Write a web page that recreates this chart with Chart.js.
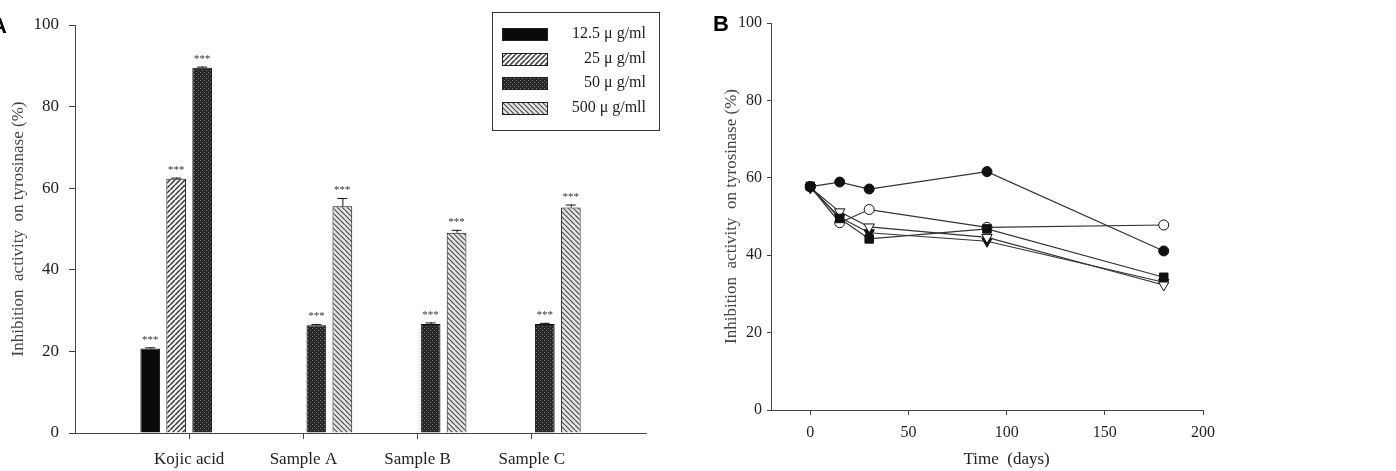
<!DOCTYPE html>
<html>
<head>
<meta charset="utf-8">
<script src="https://cdn.jsdelivr.net/npm/chart.js@4.4.0/dist/chart.umd.min.js"></script>
<style>
  html, body { margin: 0; padding: 0; background: #fff; }
  #wrap { position: relative; width: 1396px; height: 471px; overflow: hidden; }
  #chartA { position: absolute; left: 0; top: 0; }
  #chartB { position: absolute; left: 700px; top: 0; }
</style>
</head>
<body>
<div id="wrap">
  <canvas id="chartA" width="690" height="471"></canvas>
  <canvas id="chartB" width="696" height="471"></canvas>
</div>
<script>
// ---- data, panel A (bars) ----
const categories = ['Kojic acid', 'Sample A', 'Sample B', 'Sample C'];
const concLabels = ['12.5 \u03bc g/ml', '25 \u03bc g/ml', '50 \u03bc g/ml', '500 \u03bc g/mll'];
const inhib125 = [20.7, null, null, null];
const inhib25 = [62.3, null, null, null];
const inhib50 = [89.5, 26.4, 26.7, 26.7];
const inhib500 = [null, 55.6, 49.1, 55.3];
const err125 = [0.3, null, null, null];
const err25 = [0.3, null, null, null];
const err50 = [0.3, 0.3, 0.4, 0.3];
const err500 = [null, 2.0, 0.7, 0.7];

// ---- data, panel B (stability over time) ----
const days = [0, 15, 30, 90, 180];
const actFilledSquare = [57.8, 49.5, 44.2, 46.8, 34.3];
const actFilledCircle = [57.7, 58.9, 57.1, 61.6, 41.1];
const actOpenCircle = [57.7, 48.4, 51.8, 47.2, 47.8];
const actOpenTriangle = [57.5, 51.2, 47.3, 44.6, 32.3];
const actFilledTriangle = [57.4, 49.8, 45.8, 43.6, 33.0];
const xTicksB = [0, 50, 100, 150, 200];

const serif = '"Liberation Serif", "Times New Roman", serif';
const axisColor = '#444';
const textColor = '#1e1e1e';

// patterns for the bars
function makePattern(ctx, size, draw) {
    const c = document.createElement('canvas');
    c.width = size;
    c.height = size;
    draw(c.getContext('2d'), size);
    return ctx.createPattern(c, 'repeat');
}

const ctxA = document.getElementById('chartA').getContext('2d');

const hatchFwd = makePattern(ctxA, 5, (g, s) => {
    g.fillStyle = '#f4f4f4';
    g.fillRect(0, 0, s, s);
    g.strokeStyle = '#383838';
    g.lineWidth = 1.5;
    for (let k = -1; k <= 1; k++) {
        g.beginPath();
        g.moveTo(k * s, s);
        g.lineTo(k * s + s, 0);
        g.stroke();
    }
});
const hatchBack = makePattern(ctxA, 5, (g, s) => {
    g.fillStyle = '#e4e4e4';
    g.fillRect(0, 0, s, s);
    g.strokeStyle = '#4c4c4c';
    g.lineWidth = 1.2;
    for (let k = -1; k <= 1; k++) {
        g.beginPath();
        g.moveTo(k * s, 0);
        g.lineTo(k * s + s, s);
        g.stroke();
    }
});
const dots = makePattern(ctxA, 4, (g, s) => {
    g.fillStyle = '#262626';
    g.fillRect(0, 0, s, s);
    g.fillStyle = '#7a7a7a';
    g.fillRect(0, 0, 1, 1);
    g.fillRect(2, 2, 1, 1);
});

// blank slots at both ends so categories sit one full step in
const padded = arr => [null, ...arr, null];
const labelsA = ['', ...categories, ''];

const barDatasets = [
    { label: concLabels[0], data: padded(inhib125), err: padded(err125), backgroundColor: '#0a0a0a' },
    { label: concLabels[1], data: padded(inhib25), err: padded(err25), backgroundColor: hatchFwd },
    { label: concLabels[2], data: padded(inhib50), err: padded(err50), backgroundColor: dots },
    { label: concLabels[3], data: padded(inhib500), err: padded(err500), backgroundColor: hatchBack }
].map(ds => Object.assign(ds, {
    borderColor: '#111',
    borderWidth: 1,
    barPercentage: 0.76,
    categoryPercentage: 0.91
}));

// error bars + significance stars
const errorBarPlugin = {
    id: 'errorBars',
    afterDatasetsDraw(chart) {
        const ctx = chart.ctx;
        const yScale = chart.scales.y;
        ctx.save();
        chart.data.datasets.forEach((ds, i) => {
            const meta = chart.getDatasetMeta(i);
            meta.data.forEach((bar, j) => {
                const v = ds.data[j];
                if (v === null || v === undefined) return;
                const e = ds.err[j] || 0;
                const top = yScale.getPixelForValue(v + e);
                ctx.strokeStyle = '#111';
                ctx.lineWidth = 1;
                ctx.beginPath();
                ctx.moveTo(bar.x + 0.5, bar.y);
                ctx.lineTo(bar.x + 0.5, top);
                ctx.moveTo(bar.x - 5, top + 0.5);
                ctx.lineTo(bar.x + 5, top + 0.5);
                ctx.stroke();
                ctx.fillStyle = '#333';
                ctx.font = '11px ' + serif;
                ctx.textAlign = 'center';
                ctx.textBaseline = 'bottom';
                ctx.fillText('***', bar.x, top - 2);
            });
        });
        ctx.restore();
    }
};

const legendBoxPlugin = {
    id: 'legendBox',
    afterDraw(chart) {
        const ctx = chart.ctx;
        const left = chart.chartArea.right - 154;
        const top = 12, w = 167, h = 118;
        ctx.save();
        ctx.fillStyle = '#fff';
        ctx.fillRect(left, top, w, h);
        ctx.strokeStyle = '#333';
        ctx.lineWidth = 1;
        ctx.strokeRect(left + 0.5, top + 0.5, w, h);
        chart.data.datasets.forEach((ds, i) => {
            const cy = Math.round(top + 22 + i * 24.7);
            ctx.fillStyle = ds.backgroundColor;
            ctx.fillRect(left + 10, cy - 6, 45, 12);
            ctx.strokeStyle = '#222';
            ctx.strokeRect(left + 10.5, cy - 5.5, 45, 12);
            ctx.fillStyle = textColor;
            ctx.font = '16px ' + serif;
            ctx.textAlign = 'right';
            ctx.textBaseline = 'middle';
            ctx.fillText(ds.label, left + 154, cy);
        });
        // panel letter
        ctx.fillStyle = '#000';
        ctx.font = 'bold 22px "Liberation Sans", Arial, sans-serif';
        ctx.textAlign = 'center';
        ctx.fillText('A', -1, 27);
        ctx.restore();
    }
};

new Chart(ctxA, {
    type: 'bar',
    data: { labels: labelsA, datasets: barDatasets },
    options: {
        responsive: false,
        animation: false,
        layout: { padding: { top: 25, right: 44, left: 0, bottom: 0 } },
        plugins: { legend: { display: false }, tooltip: { enabled: false } },
        scales: {
            x: {
                type: 'category',
                offset: false,
                grid: {
                    offset: false,
                    drawOnChartArea: false,
                    tickLength: 6,
                    color: c => (c.index === 0 || c.index === labelsA.length - 1) ? 'rgba(0,0,0,0)' : axisColor
                },
                border: { display: true, color: axisColor, width: 1 },
                ticks: { font: { family: serif, size: 17 }, color: textColor, padding: 10, autoSkip: false, maxRotation: 0 },
                afterFit: s => { s.height = 38; }
            },
            y: {
                min: 0,
                max: 100,
                ticks: { stepSize: 20, font: { family: serif, size: 17 }, color: textColor, padding: 10 },
                grid: { drawOnChartArea: false, tickLength: 6, color: axisColor },
                border: { color: axisColor },
                title: {
                    display: true,
                    text: 'Inhibition  activity  on tyrosinase (%)',
                    font: { family: serif, size: 17 },
                    color: '#444',
                    padding: { top: 8, bottom: 0 }
                },
                afterFit: s => { s.width = 75; }
            }
        }
    },
    plugins: [errorBarPlugin, legendBoxPlugin]
});

// ---- panel B ----
const pts = arr => days.map((d, i) => ({ x: d, y: arr[i] }));
const lineBase = {
    borderColor: '#333',
    borderWidth: 1.2,
    pointBorderColor: '#111',
    pointBorderWidth: 1,
    fill: false,
    tension: 0
};
const lineDatasets = [
    { data: pts(actFilledSquare), pointStyle: 'rect', pointRadius: 6, pointBackgroundColor: '#111' },
    { data: pts(actFilledCircle), pointStyle: 'circle', pointRadius: 5, pointBackgroundColor: '#111' },
    { data: pts(actOpenCircle), pointStyle: 'circle', pointRadius: 5, pointBackgroundColor: '#fff' },
    { data: pts(actOpenTriangle), pointStyle: 'triangle', pointRotation: 180, pointRadius: 6, pointBackgroundColor: '#fff' },
    { data: pts(actFilledTriangle), pointStyle: 'triangle', pointRotation: 180, pointRadius: 6, pointBackgroundColor: '#111' }
].map(ds => Object.assign({}, lineBase, ds));

const panelBPlugin = {
    id: 'panelB',
    afterDraw(chart) {
        const ctx = chart.ctx;
        ctx.save();
        ctx.fillStyle = textColor;
        ctx.font = '17px ' + serif;
        ctx.textAlign = 'center';
        ctx.textBaseline = 'middle';
        ctx.fillText('Time  (days)', chart.scales.x.getPixelForValue(100), 460);
        ctx.fillStyle = '#000';
        ctx.font = 'bold 22px "Liberation Sans", Arial, sans-serif';
        ctx.fillText('B', 21, 25);
        ctx.restore();
    }
};

new Chart(document.getElementById('chartB').getContext('2d'), {
    type: 'line',
    data: { datasets: lineDatasets },
    options: {
        responsive: false,
        animation: false,
        layout: { padding: { top: 23, right: 193, left: 0, bottom: 0 } },
        plugins: { legend: { display: false }, tooltip: { enabled: false } },
        scales: {
            x: {
                type: 'linear',
                min: -20,
                max: 200,
                afterBuildTicks: s => { s.ticks = xTicksB.map(v => ({ value: v })); },
                grid: { drawOnChartArea: false, tickLength: 5, color: axisColor },
                border: { color: axisColor },
                ticks: { font: { family: serif, size: 16 }, color: textColor, padding: 8 },
                afterFit: s => { s.height = 61; }
            },
            y: {
                min: 0,
                max: 100,
                ticks: { stepSize: 20, font: { family: serif, size: 16 }, color: textColor, padding: 5 },
                grid: { drawOnChartArea: false, tickLength: 4, color: axisColor },
                border: { color: axisColor },
                title: {
                    display: true,
                    text: 'Inhibition  activity  on tyrosinase (%)',
                    font: { family: serif, size: 17 },
                    color: '#444',
                    padding: { top: 21, bottom: 0 }
                },
                afterFit: s => { s.width = 71; }
            }
        }
    },
    plugins: [panelBPlugin]
});
</script>
</body>
</html>
